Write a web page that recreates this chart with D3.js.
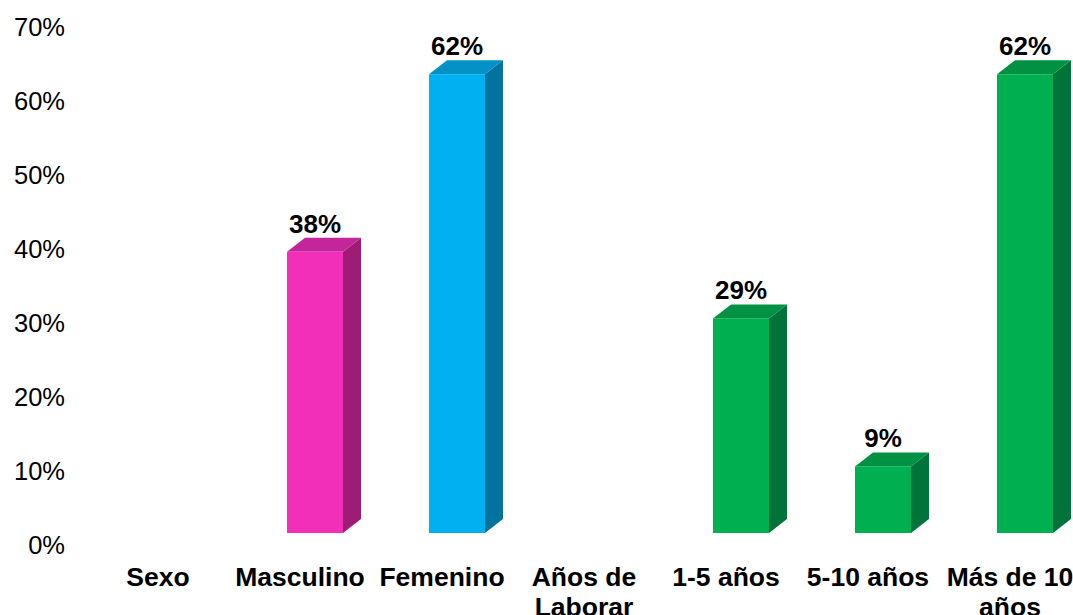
<!DOCTYPE html>
<html><head><meta charset="utf-8">
<script src="https://cdn.jsdelivr.net/npm/d3@7"></script>
<style>body{margin:0;background:#fff}svg{display:block}text{font-family:Arial,"Liberation Sans",sans-serif}</style>
</head><body>
<svg id="c" width="1073" height="615"></svg>
<script>
const categories = ["Sexo","Masculino","Femenino","Años de Laborar","1-5 años","5-10 años","Más de 10 años"];
const labelLines = [["Sexo"],["Masculino"],["Femenino"],["Años de","Laborar"],["1-5 años"],["5-10 años"],["Más de 10","años"]];
const values = [null,0.38,0.62,null,0.29,0.09,0.62];
const valueLabels = ["","38%","62%","","29%","9%","62%"];
const groups = ["none","masc","fem","none","years","years","years"];
const yTicks = [0,0.1,0.2,0.3,0.4,0.5,0.6,0.7];

const palette = {
  masc:{front:"#F22FB8",side:"#9E1C76",top:"#C2269A"},
  fem:{front:"#00B0F0",side:"#02739E",top:"#0391C6"},
  years:{front:"#00B050",side:"#00733A",top:"#009242"}
};

const svg = d3.select("#c");
const x = d3.scaleBand().domain(categories).range([87,1081]).paddingInner(0).paddingOuter(0);
const yLab = d3.scaleLinear().domain([0,0.7]).range([545,27]);
const y = d3.scaleLinear().domain([0,0.7]).range([533,15]);
const barW = 56, dx = 18, dy = 14, shift = 15;

// y axis labels
const yAxis = d3.axisLeft(yLab).tickValues(yTicks).tickFormat(d3.format(".0%")).tickSize(0).tickPadding(0);
const ga = svg.append("g").attr("transform","translate(65,0)").call(yAxis);
ga.select(".domain").remove();
ga.selectAll("text").attr("font-size",25.5).attr("fill","#000").attr("font-family","Arial, 'Liberation Sans', sans-serif");

// bars
categories.forEach((c,i)=>{
  const v = values[i];
  if (v==null) return;
  const col = palette[groups[i]];
  const cx = x(c)+x.bandwidth()/2+shift;
  const x0 = cx-barW/2, x1 = cx+barW/2;
  const yb = y(0), yt = y(v);
  const g = svg.append("g");
  g.append("path").attr("d",`M${x1},${yt}L${x1+dx},${yt-dy}L${x1+dx},${yb-dy}L${x1},${yb}Z`).attr("fill",col.side);
  g.append("path").attr("d",`M${x0},${yt}L${x0+dx},${yt-dy}L${x1+dx},${yt-dy}L${x1},${yt}Z`).attr("fill",col.top);
  g.append("rect").attr("x",x0).attr("y",yt).attr("width",barW).attr("height",yb-yt).attr("fill",col.front);
  g.append("text").attr("x",cx).attr("y",yt-dy-5).attr("text-anchor","middle")
    .attr("font-size",26).attr("font-weight","bold").attr("fill","#000").text(valueLabels[i]);
});

// category labels
categories.forEach((c,i)=>{
  const cx = x(c)+x.bandwidth()/2;
  const t = svg.append("text").attr("text-anchor","middle").attr("font-size",26.5).attr("font-weight","bold").attr("fill","#000");
  labelLines[i].forEach((ln,j)=>{
    t.append("tspan").attr("x",cx).attr("y",586+j*30).text(ln);
  });
});
</script>
</body></html>
